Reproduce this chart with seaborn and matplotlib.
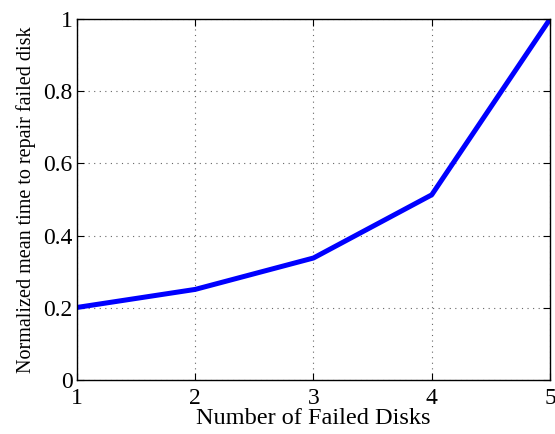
import matplotlib
matplotlib.use("Agg")
import matplotlib.pyplot as plt
import seaborn as sns
import pandas as pd

failed_disks = [1, 2, 3, 4, 5]
norm_repair_time = [0.201, 0.251, 0.338, 0.513, 1.0]

sns.set_style("ticks")
plt.rcParams['font.family'] = ['Liberation Serif', 'DejaVu Serif']
plt.rcParams['text.color'] = 'black'
plt.rcParams['axes.labelcolor'] = 'black'
plt.rcParams['xtick.color'] = 'black'
plt.rcParams['ytick.color'] = 'black'

df = pd.DataFrame({"x": failed_disks, "y": norm_repair_time})

fig = plt.figure(figsize=(5.55, 4.34), dpi=100)
ax = fig.add_axes([0.1387, 0.1244, 0.8523, 0.8318])
sns.lineplot(data=df, x="x", y="y", ax=ax, color="#0000ff", linewidth=3.6)

ax.set_xlim(1, 5)
ax.set_ylim(0, 1)
ax.set_xticks([1, 2, 3, 4, 5])
ax.set_yticks([0, 0.2, 0.4, 0.6, 0.8, 1.0])
ax.set_yticklabels(["0", "0.2", "0.4", "0.6", "0.8", "1"])
ax.tick_params(direction="in", labelsize=17, length=5, width=0.8, top=True, right=True,
               colors="black")
ax.tick_params(axis="x", pad=6)
ax.tick_params(axis="y", pad=3)
ax.grid(True, linestyle=(0, (1, 4)), color="#666666", linewidth=0.8)
for s in ax.spines.values():
    s.set_linewidth(1.0)
    s.set_color("black")
ax.set_xlabel("Number of Failed Disks", fontsize=17.5, labelpad=-1, color="black")
ax.set_ylabel("Normalized mean time to repair failed disk", fontsize=14.5, labelpad=5, color="black")

fig.savefig("out.png", dpi=100)
